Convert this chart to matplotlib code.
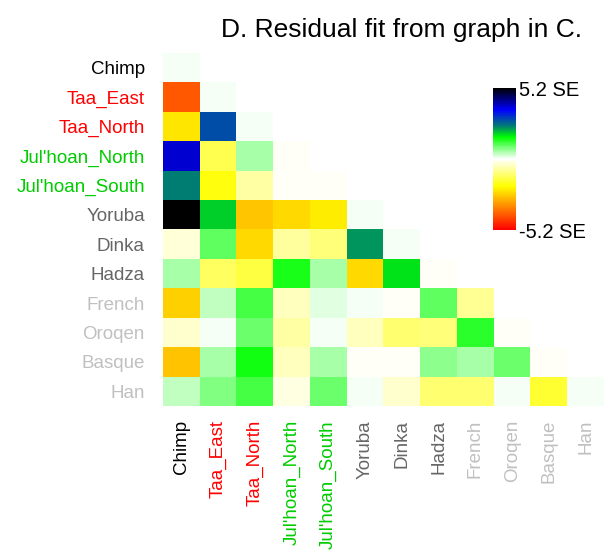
import matplotlib
matplotlib.use('Agg')
import matplotlib.pyplot as plt
import numpy as np
from matplotlib.colors import LinearSegmentedColormap

plt.rcParams['font.family'] = ['Liberation Sans', 'DejaVu Sans']

pops = ['Chimp', 'Taa_East', 'Taa_North', "Jul'hoan_North", "Jul'hoan_South",
        'Yoruba', 'Dinka', 'Hadza', 'French', 'Oroqen', 'Basque', 'Han']
label_colors = ['black', '#ff0000', '#ff0000', '#00cc00', '#00cc00',
                '#666666', '#666666', '#666666', '#c0c0c0', '#c0c0c0', '#c0c0c0', '#c0c0c0']

# residuals in SE units, lower triangle (row i has i+1 values)
resid = [
    [0.06],
    [-4.1, 0.06],
    [-2.3, 2.85, 0.06],
    [3.9, -1.35, 0.55, -0.08],
    [2.4, -1.9, -0.7, -0.08, -0.08],
    [5.2, 1.9, -2.7, -2.45, -2.2, 0.06],
    [-0.3, 1.0, -2.45, -0.75, -1.05, 2.25, 0.06],
    [0.55, -1.25, -1.5, 1.45, 0.55, -2.45, 1.75, -0.08],
    [-2.6, 0.4, 1.15, -0.5, 0.2, 0.06, -0.08, 1.0, -0.85],
    [-0.37, 0.06, 0.9, -0.7, 0.06, -0.5, -1.1, -1.05, 1.3, -0.08],
    [-2.75, 0.55, 1.5, -0.5, 0.55, -0.08, -0.08, 0.7, 0.55, 0.9, -0.08],
    [0.4, 0.8, 1.15, -0.24, 0.9, 0.06, -0.37, -1.1, -1.1, 0.06, -1.6, 0.06],
]
vmax = 5.2

n = len(pops)
mat = np.full((n, n), np.nan)
for i, row in enumerate(resid):
    mat[i, :len(row)] = row
mat = np.ma.masked_invalid(mat)

# colour scale: red - orange - yellow - white - green - teal - blue - black
anchors = [(-5.2, '#ff0000'), (-3.6, '#ff8000'), (-2.0, '#ffff00'), (0.0, '#ffffff'),
           (1.6, '#00ff00'), (2.4, '#008070'), (3.6, '#0000ff'), (5.2, '#000000')]
cmap = LinearSegmentedColormap.from_list(
    'resid', [((v + vmax) / (2 * vmax), c) for v, c in anchors])
cmap.set_bad('white')

fig = plt.figure(figsize=(6.15, 5.5), dpi=100)
ax = fig.add_axes([163 / 615, 144 / 550, 441 / 615, 353 / 550])
im = ax.imshow(mat, cmap=cmap, vmin=-vmax, vmax=vmax, aspect='auto',
               interpolation='nearest')

ax.set_xticks(range(n))
ax.set_yticks(range(n))
ax.set_xticklabels(pops, rotation=90, fontsize=13.5)
ax.set_yticklabels(pops, fontsize=13.5)
for lab, c in zip(ax.get_xticklabels(), label_colors):
    lab.set_color(c)
for lab, c in zip(ax.get_yticklabels(), label_colors):
    lab.set_color(c)
ax.tick_params(length=0, pad=13)
ax.tick_params(axis='x', pad=10)
for s in ax.spines.values():
    s.set_visible(False)

fig.text(582 / 615, 1 - 30 / 550, 'D. Residual fit from graph in C.',
         fontsize=19, ha='right', va='center')

cax = fig.add_axes([493 / 615, 320 / 550, 23 / 615, 142 / 550])
cb = fig.colorbar(im, cax=cax)
cb.outline.set_visible(False)
cb.set_ticks([vmax, -vmax])
cb.set_ticklabels(['%.1f SE' % vmax, '%.1f SE' % -vmax])
cax.tick_params(length=0, pad=2, labelsize=14.5)

fig.savefig('out.png', dpi=100)
